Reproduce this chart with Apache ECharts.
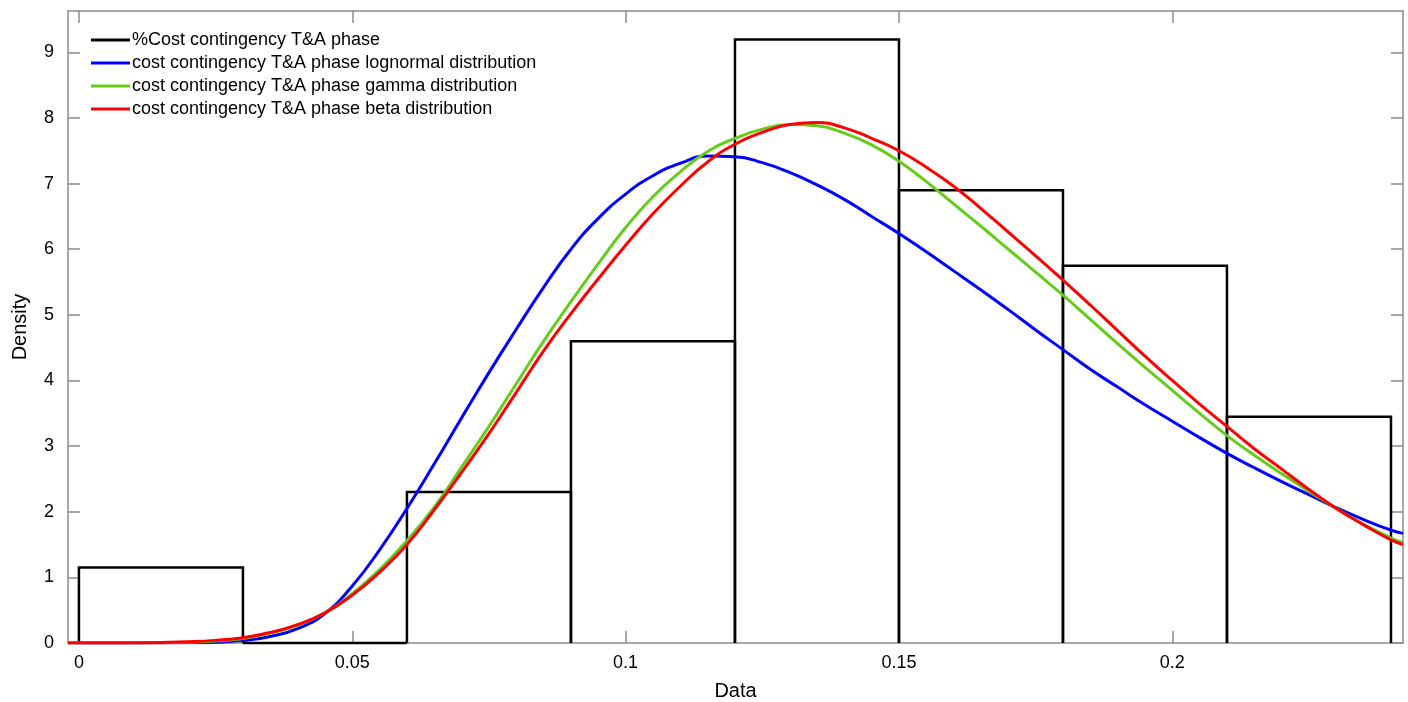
<!DOCTYPE html>
<html>
<head>
<meta charset="utf-8">
<script src="https://cdn.jsdelivr.net/npm/echarts@6/dist/echarts.min.js"></script>
<style>
  html, body { margin: 0; padding: 0; background: #fff; }
  #chart { width: 1408px; height: 702px; }
</style>
</head>
<body>
<div id="chart"></div>
<script>
// histogram bins (edges) and densities
const binEdges = [0, 0.03, 0.06, 0.09, 0.12, 0.15, 0.18, 0.21, 0.24];
const binDensity = [1.149, 0, 2.299, 4.598, 9.195, 6.897, 5.747, 3.448];

// x positions of the fitted curves
const curveX = [-0.002, 0, 0.01, 0.02, 0.025, 0.03, 0.035, 0.04, 0.045, 0.05, 0.055, 0.06, 0.065, 0.07, 0.075,
  0.08, 0.085, 0.09, 0.095, 0.1, 0.105, 0.11, 0.115, 0.12, 0.125, 0.13, 0.135, 0.14, 0.145, 0.15,
  0.155, 0.16, 0.165, 0.17, 0.175, 0.18, 0.185, 0.19, 0.195, 0.2, 0.205, 0.21, 0.215, 0.22, 0.225,
  0.23, 0.235, 0.24, 0.2422];

const lognormal = [0, 0, 0, 0.003, 0.012, 0.04, 0.1, 0.22, 0.45, 0.87, 1.42, 2.05, 2.73, 3.43, 4.12,
  4.78, 5.42, 6.0, 6.47, 6.84, 7.12, 7.31, 7.42, 7.41, 7.32, 7.17, 6.98, 6.76, 6.5, 6.24,
  5.96, 5.67, 5.38, 5.08, 4.77, 4.47, 4.17, 3.9, 3.63, 3.38, 3.13, 2.89, 2.67, 2.46, 2.26,
  2.06, 1.88, 1.72, 1.67];

const gamma = [0, 0, 0, 0.01, 0.03, 0.07, 0.15, 0.27, 0.46, 0.75, 1.12, 1.56, 2.07, 2.68, 3.3,
  3.95, 4.6, 5.2, 5.78, 6.33, 6.8, 7.18, 7.49, 7.69, 7.83, 7.9, 7.88, 7.77, 7.59, 7.34,
  7.03, 6.69, 6.35, 6.0, 5.65, 5.3, 4.93, 4.56, 4.2, 3.85, 3.5, 3.16, 2.86, 2.58, 2.31,
  2.05, 1.81, 1.6, 1.53];

const beta = [0, 0, 0, 0.02, 0.04, 0.08, 0.16, 0.28, 0.46, 0.73, 1.08, 1.5, 2.03, 2.6, 3.19,
  3.82, 4.45, 5.02, 5.55, 6.06, 6.54, 6.96, 7.33, 7.6, 7.78, 7.9, 7.93, 7.85, 7.69, 7.5,
  7.25, 6.96, 6.62, 6.26, 5.9, 5.53, 5.15, 4.76, 4.37, 4.0, 3.64, 3.3, 2.96, 2.65, 2.34,
  2.05, 1.8, 1.57, 1.5];

const xTicks = [0, 0.05, 0.1, 0.15, 0.2];
const yTicks = [0, 1, 2, 3, 4, 5, 6, 7, 8, 9];

const names = [
  '%Cost contingency T&A phase',
  'cost contingency T&A phase lognormal distribution',
  'cost contingency T&A phase gamma distribution',
  'cost contingency T&A phase beta distribution'
];

const xMin = -0.002, xMax = 0.2422, yMax = 9.63;
const font = 'Liberation Sans, Arial, sans-serif';
const frame = '#8c8c8c';

const histData = binDensity.map((d, i) => [binEdges[i], binEdges[i + 1], d]);
const pairs = ys => curveX.map((x, i) => [x, ys[i]]);

const chart = echarts.init(document.getElementById('chart'));

const baseX = {
  type: 'value', min: xMin, max: xMax,
  splitLine: { show: false },
  axisLine: { show: true, onZero: false, lineStyle: { color: frame, width: 1.5 } },
  axisTick: { show: true, inside: true, length: 12, customValues: xTicks, lineStyle: { color: frame, width: 1.5 } }
};
const baseY = {
  type: 'value', min: 0, max: yMax,
  splitLine: { show: false },
  axisLine: { show: true, onZero: false, lineStyle: { color: frame, width: 1.5 } },
  axisTick: { show: true, inside: true, length: 12, customValues: yTicks, lineStyle: { color: frame, width: 1.5 } }
};

const option = {
  animation: false,
  textStyle: { fontFamily: font },
  grid: { left: 68, right: 5, top: 11, bottom: 59, outerBoundsMode: 'none', containLabel: false },
  legend: {
    orient: 'vertical', left: 86, top: 26,
    icon: 'rect', itemWidth: 39, itemHeight: 3, itemGap: 5,
    textStyle: { fontSize: 18, color: '#000', fontFamily: font, padding: [0, 0, 0, -3] },
    data: names
  },
  xAxis: [
    Object.assign({}, baseX, {
      position: 'bottom',
      name: 'Data', nameLocation: 'middle', nameGap: 38,
      nameTextStyle: { fontSize: 20, color: '#000' },
      axisLabel: { customValues: xTicks, fontSize: 18, color: '#000', margin: 11,
        formatter: v => String(+v.toFixed(2)) }
    }),
    Object.assign({}, baseX, { position: 'top', axisLabel: { show: false } })
  ],
  yAxis: [
    Object.assign({}, baseY, {
      position: 'left',
      name: 'Density', nameLocation: 'middle', nameGap: 38,
      nameTextStyle: { fontSize: 20, color: '#000' },
      axisLabel: { customValues: yTicks, fontSize: 18, color: '#000', margin: 14 }
    }),
    Object.assign({}, baseY, { position: 'right', axisLabel: { show: false } })
  ],
  series: [
    {
      name: names[0],
      type: 'custom',
      itemStyle: { color: '#000' },
      data: histData,
      renderItem: (params, api) => {
        const p0 = api.coord([api.value(0), 0]);
        const p1 = api.coord([api.value(0), api.value(2)]);
        const p2 = api.coord([api.value(1), api.value(2)]);
        const p3 = api.coord([api.value(1), 0]);
        return {
          type: 'polyline',
          shape: { points: [p0, p1, p2, p3] },
          style: { stroke: '#000', lineWidth: 2.5, fill: null }
        };
      },
      z: 2
    },
    { name: names[1], type: 'line', data: pairs(lognormal), smooth: 0.5, showSymbol: false,
      lineStyle: { color: '#0000ff', width: 3 }, itemStyle: { color: '#0000ff' }, z: 3 },
    { name: names[2], type: 'line', data: pairs(gamma), smooth: 0.5, showSymbol: false,
      lineStyle: { color: '#66cc1a', width: 3 }, itemStyle: { color: '#66cc1a' }, z: 4 },
    { name: names[3], type: 'line', data: pairs(beta), smooth: 0.5, showSymbol: false,
      lineStyle: { color: '#ff0000', width: 3 }, itemStyle: { color: '#ff0000' }, z: 5 }
  ]
};

chart.setOption(option);
</script>
</body>
</html>
